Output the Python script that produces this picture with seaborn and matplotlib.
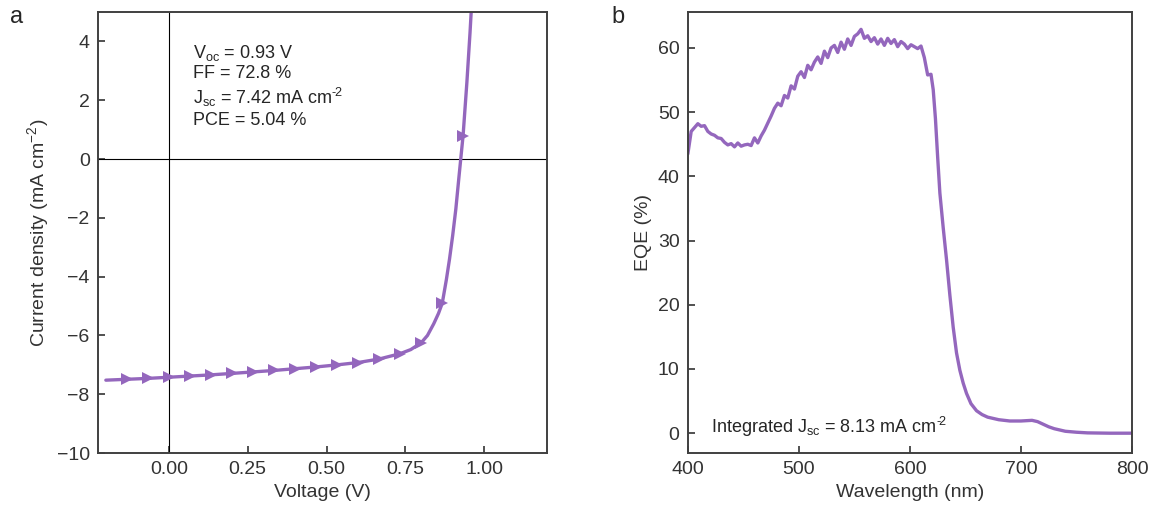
import numpy as np
import pandas as pd
import seaborn as sns
import matplotlib.pyplot as plt

# J-V curve (voltage in V, current density in mA cm-2)
voltage = [-0.2, -0.133, -0.067, 0.0, 0.067, 0.133, 0.2, 0.267, 0.333, 0.4,
           0.467, 0.533, 0.6, 0.667, 0.733, 0.767, 0.8, 0.82, 0.84, 0.855,
           0.867, 0.88, 0.89, 0.9, 0.91, 0.92, 0.933, 0.945, 0.955, 0.965]
current = [-7.52, -7.49, -7.46, -7.42, -7.38, -7.34, -7.29, -7.24, -7.19, -7.13,
           -7.07, -7.00, -6.92, -6.80, -6.62, -6.48, -6.25, -6.0, -5.6, -5.25,
           -4.90, -4.1, -3.4, -2.6, -1.7, -0.6, 0.80, 2.6, 4.3, 6.2]
marker_idx = [1, 2, 3, 4, 5, 6, 7, 8, 9, 10, 11, 12, 13, 14, 16, 20, 26]

# EQE spectrum
wavelength = [400, 403, 406, 409, 412, 415, 418, 421, 424, 427, 430, 433, 436, 439,
              442, 445, 448, 451, 454, 457, 460, 463, 466, 469, 472, 475, 478, 481,
              484, 487, 490, 493, 496, 499, 502, 505, 508, 511, 514, 517, 520, 523,
              526, 529, 532, 535, 538, 541, 544, 547, 550, 553, 556, 559, 562, 565,
              568, 571, 574, 577, 580, 583, 586, 589, 592, 595, 598, 601, 604, 607,
              610, 613, 616, 619, 621, 623, 625, 627, 630, 633, 636, 639, 642, 645,
              648, 651, 655, 660, 665, 670, 680, 690, 700, 710, 715, 720, 725, 730,
              740, 750, 760, 780, 800]
eqe = [43.5, 47.0, 47.6, 48.2, 47.8, 47.9, 47.0, 46.6, 46.4, 46.0, 45.9, 45.3, 44.9, 45.1,
       44.6, 45.2, 44.7, 44.9, 45.0, 44.8, 46.0, 45.2, 46.3, 47.2, 48.3, 49.4, 50.6, 51.4,
       51.0, 52.6, 52.2, 54.1, 53.6, 55.6, 56.3, 55.4, 57.3, 56.6, 57.8, 58.6, 57.6, 59.5,
       58.5, 60.0, 60.4, 59.3, 60.9, 59.8, 61.4, 60.4, 61.8, 62.2, 62.9, 61.5, 61.9, 61.0,
       61.6, 60.6, 61.4, 60.4, 61.5, 60.7, 61.3, 60.2, 61.0, 60.6, 59.9, 60.5, 60.2, 59.9,
       60.3, 58.5, 55.8, 55.9, 53.5, 49.0, 43.0, 37.4, 32.0, 27.0, 21.5, 16.5, 12.5, 9.8,
       7.8, 6.2, 4.6, 3.5, 2.9, 2.5, 2.1, 1.9, 1.9, 2.0, 1.8, 1.4, 1.0, 0.7,
       0.3, 0.15, 0.05, 0.0, 0.0]

jv = pd.DataFrame({"V": voltage, "J": current})
spec = pd.DataFrame({"wl": wavelength, "eqe": eqe})

sns.set_style("ticks")
plt.rcParams["font.family"] = ["Liberation Sans", "DejaVu Sans"]
plt.rcParams["mathtext.fontset"] = "custom"
plt.rcParams["mathtext.rm"] = "Liberation Sans"
plt.rcParams["mathtext.it"] = "Liberation Sans"
plt.rcParams["mathtext.default"] = "regular"

purple = "#9467bd"
dark = "#333333"

fig = plt.figure(figsize=(11.58, 5.22), dpi=100)
ax1 = fig.add_axes([0.0846, 0.132, 0.388, 0.845])
ax2 = fig.add_axes([0.594, 0.132, 0.3835, 0.845])

# panel a
ax1.axhline(0, color="black", lw=0.8, zorder=1)
ax1.axvline(0, color="black", lw=0.8, zorder=1)
sns.lineplot(data=jv, x="V", y="J", ax=ax1, color=purple, lw=2.4, sort=False,
             marker=">", markersize=8, markevery=marker_idx, markeredgewidth=0)
ax1.set_xlim(-0.225, 1.2)
ax1.set_ylim(-10, 5)
ax1.set_xticks([0, 0.25, 0.5, 0.75, 1.0])
ax1.set_xticklabels(["0.00", "0.25", "0.50", "0.75", "1.00"])
ax1.set_yticks([-10, -8, -6, -4, -2, 0, 2, 4])
ax1.set_yticklabels(["\u221210", "\u22128", "\u22126", "\u22124", "\u22122", "0", "2", "4"])
ax1.set_xlabel("Voltage (V)", fontsize=14, color=dark)
ax1.set_ylabel("Current density (mA cm$^{\u22122}$)", fontsize=14, color=dark)
ax1.text(0.075, 3.95,
         "V$_{\\rm oc}$ = 0.93 V\nFF = 72.8 %\nJ$_{\\rm sc}$ = 7.42 mA cm$^{\u2010\\!2}$\nPCE = 5.04 %",
         fontsize=13, va="top", ha="left", linespacing=1.2)

# panel b
sns.lineplot(data=spec, x="wl", y="eqe", ax=ax2, color=purple, lw=2.4)
ax2.set_xlim(400, 800)
ax2.set_ylim(-3.1, 65.6)
ax2.set_xticks([400, 500, 600, 700, 800])
ax2.set_yticks([0, 10, 20, 30, 40, 50, 60])
ax2.set_xlabel("Wavelength (nm)", fontsize=14, color=dark)
ax2.set_ylabel("EQE (%)", fontsize=14, color=dark)
ax2.text(421, 1.0, "Integrated J$_{\\rm sc}$ = 8.13 mA cm$^{\u2010\\!2}$",
         fontsize=13, va="center", ha="left")

for ax in (ax1, ax2):
    ax.tick_params(direction="in", length=5, width=1.2, labelsize=14,
                   colors=dark, pad=6)
    for s in ax.spines.values():
        s.set_color("#404040")
        s.set_linewidth(1.4)

fig.text(0.009, 0.955, "a", fontsize=17)
fig.text(0.528, 0.955, "b", fontsize=17)

plt.savefig("out.png", dpi=100)
